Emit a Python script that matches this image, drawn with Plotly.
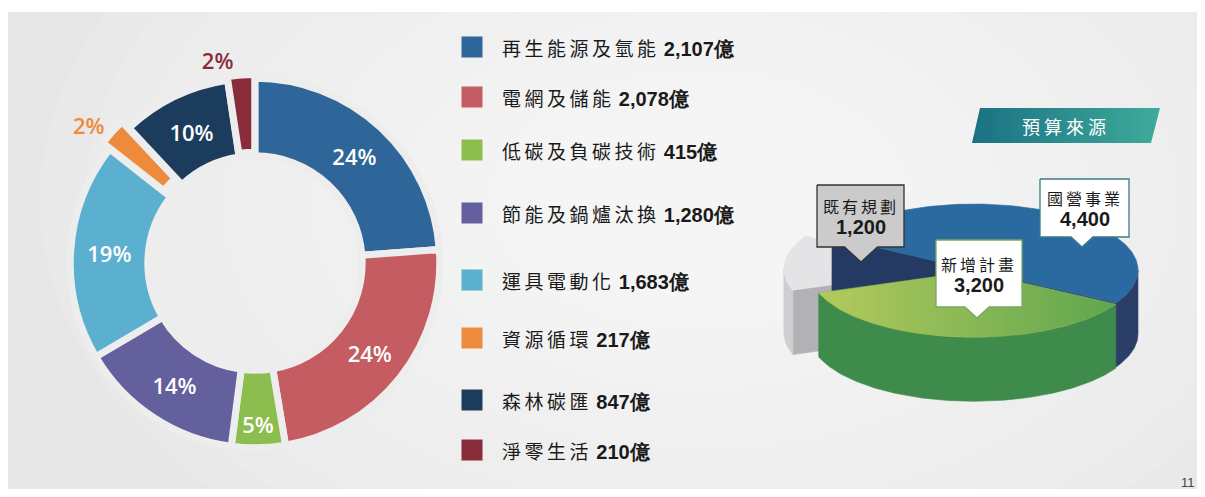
import numpy as np
import plotly.graph_objects as go

# 淨零轉型各項目預算 (億)
categories = ['再生能源及氫能', '電網及儲能', '低碳及負碳技術', '節能及鍋爐汰換',
              '運具電動化', '資源循環', '森林碳匯', '淨零生活']
budgets = [2107, 2078, 415, 1280, 1683, 217, 847, 210]
colors = ['#2e6699', '#c55c62', '#8cbd4f', '#64609d',
          '#5cb0cf', '#ee8a3c', '#1c3c5e', '#8a2d3b']

# 預算來源
source_names = ['國營事業', '新增計畫', '既有規劃']
source_values = [4400, 3200, 1200]

# page is 1205x497; the browser adds an 8px body margin, so the figure is
# a bit smaller and the axes are expressed in page pixels
PW, PH = 1205, 497
OFF = 8
W, H = PW - OFF, PH - 2 * OFF
CJK = 'Noto Sans CJK TC'
NUM = 'Liberation Sans'

fig = go.Figure()

# ---------------- donut ----------------
pos = ['inside'] * len(budgets)
pos[5] = 'outside'
pos[7] = 'outside'
pull = [0] * len(budgets)
pull[5] = 0.05
pull[7] = 0.02

dcx, dcy, box = 255 - OFF, 263 - OFF, 388
fig.add_trace(go.Pie(
    values=budgets, labels=categories,
    marker=dict(colors=colors, line=dict(color='#ededed', width=7)),
    hole=0.58, sort=False, direction='clockwise', rotation=0,
    pull=pull, textposition=pos,
    texttemplate='%{percent:.0%}', insidetextorientation='horizontal',
    insidetextfont=dict(color='white', size=22, family='Open Sans', weight=600),
    outsidetextfont=dict(color=colors, size=22, family='Open Sans', weight=600),
    domain=dict(x=[(dcx - box / 2) / W, (dcx + box / 2) / W],
                y=[1 - (dcy + box / 2) / H, 1 - (dcy - box / 2) / H]),
    showlegend=False, hoverinfo='label+value',
))

# ---------------- legend list ----------------
legend_y = [47, 97, 150, 213, 280, 338, 400, 450]
fig.add_trace(go.Scatter(
    x=[472] * len(categories), y=legend_y, mode='markers',
    marker=dict(symbol='square', size=21, color=colors, line=dict(width=0)),
    showlegend=False, hoverinfo='skip'))

annotations = []
for name, v, y in zip(categories, budgets, legend_y):
    annotations.append(dict(
        x=500, y=y, xref='x', yref='y', xanchor='left', yanchor='middle', showarrow=False,
        text=f"<span style='letter-spacing:3.5px'>{name}</span> "
             f"<span style='font-family:{NUM};font-size:20px'><b>{v:,}億</b></span>",
        font=dict(family=CJK, size=19, color='#1a1a1a')))

# ---------------- 3D pie of budget sources ----------------
cx, cy, rx, ry, depth = 974, 270, 164, 66, 64
start = 150
explode = [0, 0.02, 0.16]
top_col = ['#2b6aa0', '#8dbd53', '#e4e4e6']
side_col = ['#2b3e68', '#3f8b4b', '#cfcfd1']
cut_col = ['#243a62', '#357a42', '#b2b2b5']

tot = sum(source_values)
edges = start - np.concatenate([[0], np.cumsum([v / tot * 360 for v in source_values])])


def rim(a, ox, oy, down=0.0):
    r = np.radians(a)
    return cx + ox + rx * np.cos(r), cy + oy - ry * np.sin(r) + down


def poly(xs, ys, color, grad=None):
    kw = dict(fillgradient=grad) if grad else dict(fillcolor=color)
    fig.add_trace(go.Scatter(x=list(xs), y=list(ys), mode='lines', fill='toself',
                             line=dict(color=color, width=0.6), showlegend=False,
                             hoverinfo='skip', **kw))


for i in [2, 0, 1]:
    a_hi, a_lo = edges[i], edges[i + 1]
    mid = np.radians((a_hi + a_lo) / 2)
    ox = explode[i] * rx * np.cos(mid)
    oy = -explode[i] * ry * np.sin(mid)
    c0 = (cx + ox, cy + oy)
    # radial cut faces that look towards the viewer
    for a, ok in [(a_hi, np.cos(np.radians(a_hi)) < 0), (a_lo, np.cos(np.radians(a_lo)) > 0)]:
        if ok:
            x1, y1 = rim(a, ox, oy)
            poly([c0[0], x1, x1, c0[0], c0[0]],
                 [c0[1], y1, y1 + depth, c0[1] + depth, c0[1]], cut_col[i])
    # curved outer wall (front half only)
    t = np.linspace(a_lo, a_hi, 181)
    vis = np.sin(np.radians(t)) < 1e-9
    if vis.any():
        tv = t[vis]
        xt, yt = rim(tv, ox, oy)
        xb, yb = rim(tv[::-1], ox, oy, depth)
        poly(np.r_[xt, xb, xt[:1]], np.r_[yt, yb, yt[:1]], side_col[i])
    # top face
    t = np.linspace(a_hi, a_lo, 181)
    xt, yt = rim(t, ox, oy)
    grad = None
    if i == 1:
        grad = dict(type='horizontal', colorscale=[[0, '#b4ca5c'], [1, '#5fa64f']])
    poly(np.r_[c0[0], xt, c0[0]], np.r_[c0[1], yt, c0[1]], top_col[i], grad)

# callout boxes
boxes = [  # x0, x1, y0, y1, tip x, tip y, fill, border
    (1040, 1129, 179, 237, 1082, 247, 'white', '#3b7a88'),
    (936, 1022, 240, 307, 977, 318, 'white', '#7aa860'),
    (817, 904, 185, 247, 861, 262, '#cbcbcb', '#333333'),
]
for (x0, x1, y0, y1, tx, ty, fc, bc), name, v in zip(boxes, source_names, source_values):
    hw = (ty - y1) * 1.1
    fig.add_trace(go.Scatter(
        x=[x0, x1, x1, tx + hw, tx, tx - hw, x0, x0],
        y=[y0, y0, y1, y1, ty, y1, y1, y0],
        mode='lines', fill='toself', fillcolor=fc, line=dict(color=bc, width=1.3),
        showlegend=False, hoverinfo='skip'))
    annotations.append(dict(
        x=(x0 + x1) / 2, y=(y0 + y1) / 2, xref='x', yref='y', showarrow=False,
        text=f"<span style='letter-spacing:3px'>{name}</span><br>"
             f"<span style='font-family:{NUM};font-size:20px'><b>{v:,}</b></span>",
        font=dict(family=CJK, size=16, color='#1a1a1a')))

# title banner
fig.add_trace(go.Scatter(
    x=[972, 980, 1160, 1151, 972], y=[143, 108, 108, 143, 143],
    mode='lines', fill='toself', line=dict(width=0, color='#2a8f90'),
    fillgradient=dict(type='horizontal', colorscale=[[0, '#1b7183'], [1, '#3eab9b']]),
    showlegend=False, hoverinfo='skip'))
annotations.append(dict(
    x=1066, y=126, xref='x', yref='y', showarrow=False,
    text="<span style='letter-spacing:4px'>預算來源</span>",
    font=dict(family=CJK, size=18, color='white')))

annotations.append(dict(x=1188, y=482, xref='x', yref='y', showarrow=False,
                        text='11', font=dict(family='Liberation Sans', size=13, color='#444')))

# background: white frame with a soft light-gray radial wash
shapes = [dict(type='rect', xref='x', yref='y', x0=OFF, x1=PW, y0=12, y1=PH,
               fillcolor='#e7e7e7', line=dict(width=0), layer='below')]
n = 12
for k in range(n):
    a = 660 - k * 45
    b = 430 - k * 30
    shapes.append(dict(type='circle', xref='x', yref='y', x0=700 - a, x1=700 + a,
                       y0=200 - b, y1=200 + b, fillcolor='white', opacity=0.09,
                       line=dict(width=0), layer='below'))
shapes.append(dict(type='rect', xref='x', yref='y', x0=0, x1=PW, y0=0, y1=12,
                   fillcolor='white', line=dict(width=0), layer='below'))

fig.update_layout(
    width=W, height=H, margin=dict(l=0, r=0, t=0, b=0),
    paper_bgcolor='white', plot_bgcolor='rgba(0,0,0,0)',
    xaxis=dict(range=[OFF, PW], visible=False, fixedrange=True),
    yaxis=dict(range=[OFF + H, OFF], visible=False, fixedrange=True),
    shapes=shapes, annotations=annotations,
)

fig.write_html("out.html")
